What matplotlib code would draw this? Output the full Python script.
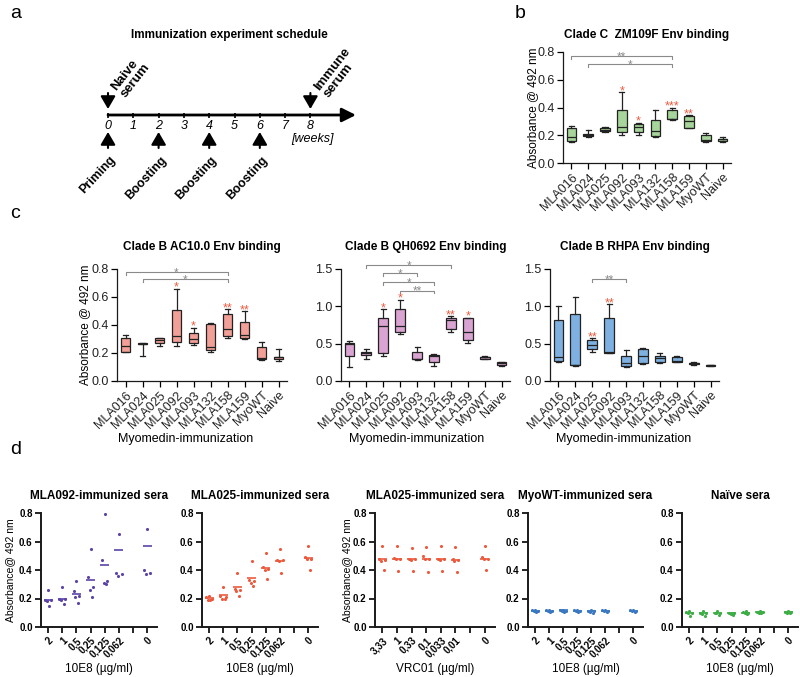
import numpy as np
import matplotlib.pyplot as plt

plt.rcParams['font.family'] = ['Liberation Sans', 'DejaVu Sans']

# --- DATA ---
# panel a: schedule
weeks = list(range(9))
bleed_weeks = [0, 8]
bleed_labels = ['Naive\nserum', 'Immune\nserum']
shot_weeks = [0, 2, 4, 6]
shot_labels = ['Priming', 'Boosting', 'Boosting', 'Boosting']

# panels b, c: box plots (whisker low, q1, median, q3, whisker high)
groups = ['MLA016', 'MLA024', 'MLA025', 'MLA092', 'MLA093', 'MLA132', 'MLA158', 'MLA159', 'MyoWT', 'Naive']

zm109f = [[0.15, 0.16, 0.19, 0.25, 0.27], [0.19, 0.195, 0.20, 0.21, 0.24], [0.225, 0.228, 0.24, 0.25, 0.26],
          [0.205, 0.22, 0.26, 0.38, 0.51], [0.205, 0.22, 0.26, 0.28, 0.29], [0.185, 0.195, 0.23, 0.31, 0.385],
          [0.31, 0.315, 0.32, 0.38, 0.40], [0.25, 0.255, 0.305, 0.34, 0.345], [0.15, 0.155, 0.165, 0.20, 0.215],
          [0.15, 0.16, 0.17, 0.175, 0.19]]
zm109f_stars = [(3, '*'), (4, '*'), (6, '***'), (7, '**')]
zm109f_brackets = [(0, 6, 0.77, '**'), (1, 6, 0.715, '*')]

ac10 = [[0.205, 0.21, 0.25, 0.31, 0.33], [0.18, 0.262, 0.265, 0.27, 0.27], [0.25, 0.27, 0.295, 0.305, 0.31],
        [0.25, 0.275, 0.32, 0.51, 0.66], [0.26, 0.27, 0.30, 0.345, 0.38], [0.21, 0.22, 0.245, 0.41, 0.415],
        [0.31, 0.32, 0.37, 0.48, 0.515], [0.30, 0.305, 0.325, 0.42, 0.50], [0.15, 0.155, 0.165, 0.245, 0.28],
        [0.145, 0.16, 0.168, 0.17, 0.23]]
ac10_stars = [(3, '*'), (4, '*'), (6, '**'), (7, '**')]
ac10_brackets = [(0, 6, 0.78, '*'), (1, 6, 0.725, '*')]

qh0692 = [[0.19, 0.335, 0.49, 0.505, 0.535], [0.295, 0.35, 0.375, 0.39, 0.43], [0.33, 0.38, 0.73, 0.85, 0.96],
          [0.625, 0.65, 0.74, 0.97, 1.09], [0.28, 0.29, 0.30, 0.385, 0.45], [0.205, 0.26, 0.33, 0.345, 0.36],
          [0.66, 0.69, 0.815, 0.84, 0.87], [0.515, 0.55, 0.65, 0.84, 0.85], [0.295, 0.30, 0.315, 0.325, 0.335],
          [0.20, 0.21, 0.235, 0.25, 0.26]]
qh0692_stars = [(2, '*'), (3, '*'), (6, '**'), (7, '*')]
qh0692_brackets = [(1, 6, 1.55, '*'), (2, 4, 1.44, '*'), (2, 5, 1.32, '*'), (3, 5, 1.21, '**')]

rhpa = [[0.25, 0.27, 0.315, 0.82, 1.0], [0.205, 0.215, 0.22, 0.90, 1.13], [0.39, 0.43, 0.48, 0.55, 0.57],
        [0.37, 0.38, 0.385, 0.85, 1.03], [0.185, 0.205, 0.235, 0.335, 0.415], [0.225, 0.245, 0.335, 0.43, 0.445],
        [0.24, 0.25, 0.31, 0.34, 0.37], [0.255, 0.26, 0.27, 0.32, 0.34], [0.22, 0.225, 0.235, 0.245, 0.25],
        [0.20, 0.205, 0.21, 0.215, 0.22]]
rhpa_stars = [(2, '**'), (3, '**')]
rhpa_brackets = [(2, 4, 1.36, '**')]

# panel d: dose series (5 sera per dose) and group means
dose_pos = [0, 1, 2, 3, 4, 5, 7]
e8_ticks = ['2', '1', '0,5', '0,25', '0,125', '0,062', '', '0']
vrc_ticks = ['3,33', '1', '0,33', '0,1', '0,033', '0,01', '', '0']

mla092_pts = [[0.26, 0.19, 0.19, 0.18, 0.15], [0.28, 0.20, 0.20, 0.19, 0.16], [0.32, 0.25, 0.22, 0.21, 0.17],
              [0.55, 0.35, 0.28, 0.26, 0.21], [0.79, 0.47, 0.32, 0.31, 0.30], [0.655, 0.38, 0.37, 0.355],
              [0.69, 0.40, 0.38, 0.375]]
mla092_mean = [0.19, 0.20, 0.23, 0.33, 0.435, 0.54, 0.57]

mla025_pts = [[0.22, 0.21, 0.20, 0.19, 0.19], [0.28, 0.22, 0.21, 0.20, 0.20], [0.38, 0.27, 0.26, 0.25, 0.22],
              [0.46, 0.33, 0.32, 0.31, 0.29], [0.52, 0.42, 0.41, 0.40, 0.34], [0.55, 0.47, 0.47, 0.46, 0.38],
              [0.57, 0.49, 0.48, 0.48, 0.40]]
mla025_mean = [0.205, 0.223, 0.278, 0.341, 0.417, 0.466, 0.482]

vrc01_pts = [[0.565, 0.48, 0.47, 0.46, 0.40], [0.57, 0.485, 0.48, 0.475, 0.395], [0.555, 0.48, 0.475, 0.47, 0.395],
             [0.56, 0.495, 0.48, 0.475, 0.385], [0.565, 0.48, 0.475, 0.47, 0.395], [0.56, 0.475, 0.47, 0.465, 0.385],
             [0.57, 0.49, 0.48, 0.48, 0.40]]
vrc01_mean = [0.475, 0.48, 0.475, 0.48, 0.475, 0.47, 0.48]

myowt_pts = [[0.12, 0.12, 0.115, 0.11, 0.105], [0.12, 0.118, 0.115, 0.11, 0.105], [0.122, 0.12, 0.115, 0.11, 0.108],
             [0.12, 0.118, 0.115, 0.112, 0.108], [0.12, 0.115, 0.112, 0.105, 0.10], [0.122, 0.12, 0.115, 0.11, 0.105],
             [0.122, 0.12, 0.115, 0.11, 0.105]]
myowt_mean = [0.115, 0.114, 0.116, 0.115, 0.111, 0.115, 0.115]

naive_pts = [[0.11, 0.105, 0.10, 0.095, 0.08], [0.11, 0.10, 0.10, 0.09, 0.08], [0.11, 0.10, 0.10, 0.095, 0.085],
             [0.10, 0.10, 0.095, 0.09, 0.085], [0.11, 0.105, 0.10, 0.095, 0.09], [0.11, 0.105, 0.105, 0.10, 0.095],
             [0.11, 0.105, 0.105, 0.10, 0.10]]
naive_mean = [0.10, 0.095, 0.10, 0.095, 0.10, 0.103, 0.104]

# --- STYLE ---
W, H = 800, 677
RED = '#ec5a3e'
GREY = '#8a8a8a'
EDGE = '#222222'
jitter = [0.0, -0.2, 0.2, -0.07, 0.1]

fig = plt.figure(figsize=(8, 6.77), dpi=100)


def px_axes(left, top, right, bottom):
    return fig.add_axes([left / W, 1 - bottom / H, (right - left) / W, (bottom - top) / H])


def prism_spines(ax, lw):
    for s in ['top', 'right']:
        ax.spines[s].set_visible(False)
    for s in ['left', 'bottom']:
        ax.spines[s].set_linewidth(lw)
        ax.spines[s].set_color('#1a1a1a')


# --- PANEL a ---
ax_a = px_axes(60, 20, 380, 215)
ax_a.set_xlim((60 - 108) / 25.3, (380 - 108) / 25.3)
ax_a.set_ylim(215, 20)
ax_a.axis('off')
ax_a.annotate('', xy=(9.8, 115), xytext=(0, 115),
              arrowprops=dict(arrowstyle='-|>,head_length=0.6,head_width=0.3', lw=2, color='black',
                              mutation_scale=14, shrinkA=0, shrinkB=0))
ax_a.vlines(weeks, 112.5, 117.5, color='black', lw=1.2)
for w in weeks:
    ax_a.text(w, 126, str(w), ha='center', va='center', style='italic', fontsize=9)
ax_a.text(8.1, 139, '[weeks]', ha='center', va='center', style='italic', fontsize=9)
ax_a.text(4.8, 35, 'Immunization experiment schedule', ha='center', va='center', fontweight='bold', fontsize=8.5)
for w, lab in zip(bleed_weeks, bleed_labels):
    ax_a.annotate('', xy=(w, 109), xytext=(w, 93),
                  arrowprops=dict(arrowstyle='-|>,head_length=0.55,head_width=0.32', lw=1.5, color='black',
                                  mutation_scale=14, shrinkA=0, shrinkB=0))
    ax_a.text(w + 0.8, 100, lab, rotation=52, rotation_mode='anchor', ha='left', va='bottom',
              fontweight='bold', fontsize=9.5, linespacing=1.0)
for w, lab in zip(shot_weeks, shot_labels):
    ax_a.annotate('', xy=(w, 132), xytext=(w, 148),
                  arrowprops=dict(arrowstyle='-|>,head_length=0.55,head_width=0.32', lw=1.5, color='black',
                                  mutation_scale=14, shrinkA=0, shrinkB=0))
    ax_a.text(w + 0.05, 154, lab, rotation=47, rotation_mode='anchor', ha='right', va='top',
              fontweight='bold', fontsize=9)


# --- PANELS b, c ---
def box_panel(ax, stats5, color, ymax, yticks, stars, brackets, title, pad=14):
    bstats = [dict(whislo=s[0], q1=s[1], med=s[2], q3=s[3], whishi=s[4], fliers=[]) for s in stats5]
    ax.bxp(bstats, positions=range(len(groups)), widths=0.58, capwidths=0.3, patch_artist=True,
           showfliers=False,
           boxprops=dict(facecolor=color, edgecolor=EDGE, lw=0.9),
           medianprops=dict(color=EDGE, lw=0.9),
           whiskerprops=dict(color=EDGE, lw=0.9),
           capprops=dict(color=EDGE, lw=0.9))
    ax.set_xlim(-0.5, 9.5)
    ax.set_ylim(0, ymax)
    ax.set_yticks(yticks)
    ax.set_yticklabels([f'{v:.1f}' for v in yticks], fontsize=9, color='#222222')
    ax.set_xticks(range(len(groups)))
    ax.set_xticklabels(groups, rotation=45, ha='right', rotation_mode='anchor', fontsize=9, color='#222222')
    ax.tick_params(length=4, width=0.9, pad=2)
    prism_spines(ax, 0.9)
    ax.set_title(title, fontweight='bold', fontsize=8.5, pad=pad)
    for i, s in stars:
        ax.annotate(s, (i, stats5[i][4]), xytext=(0, -1.5), textcoords='offset points', ha='center',
                    va='baseline', color=RED, fontsize=9, annotation_clip=False)
    for x0, x1, y, s in brackets:
        h = 0.025 * ymax
        ax.plot([x0, x0, x1, x1], [y - h, y, y, y - h], color=GREY, lw=0.8, clip_on=False)
        ax.annotate(s, ((x0 + x1) / 2, y), xytext=(0, -3), textcoords='offset points', ha='center',
                    va='baseline', color=GREY, fontsize=8.5, annotation_clip=False)


ax_b = px_axes(563, 52, 731, 163)
box_panel(ax_b, zm109f, '#a6d49a', 0.8, [0.0, 0.2, 0.4, 0.6, 0.8], zm109f_stars, zm109f_brackets,
          'Clade C  ZM109F Env binding', pad=10)
ax_b.set_ylabel('Absorbance @ 492 nm', fontsize=8.5)
ax_b.yaxis.set_label_coords((539 - 563) / 168, 0.5)

ax_c1 = px_axes(117, 269, 287, 381)
box_panel(ax_c1, ac10, '#f2a097', 0.8, [0.0, 0.2, 0.4, 0.6, 0.8], ac10_stars, ac10_brackets,
          'Clade B AC10.0 Env binding')
ax_c1.set_ylabel('Absorbance @ 492 nm', fontsize=8.5)
ax_c1.yaxis.set_label_coords((91 - 117) / 170, 0.5)

ax_c2 = px_axes(341, 269, 510, 381)
box_panel(ax_c2, qh0692, '#d9a3d2', 1.5, [0.0, 0.5, 1.0, 1.5], qh0692_stars, qh0692_brackets,
          'Clade B QH0692 Env binding')

ax_c3 = px_axes(550, 269, 719, 381)
box_panel(ax_c3, rhpa, '#7eb1e2', 1.5, [0.0, 0.5, 1.0, 1.5], rhpa_stars, rhpa_brackets,
          'Clade B RHPA Env binding')

for xc in [186, 417, 624]:
    fig.text(xc / W, 1 - 439 / H, 'Myomedin-immunization', ha='center', va='center', fontsize=9)


# --- PANEL d ---
def dose_panel(ax, pts, means, color, ticks, title, xlabel):
    for pos, vals, m in zip(dose_pos, pts, means):
        ax.scatter(pos + np.array(jitter[:len(vals)]), vals, s=5, color=color, linewidths=0, zorder=3)
        ax.hlines(m, pos - 0.32, pos + 0.32, color=color, lw=1.2, zorder=2)
    ax.set_xlim(-0.5, 7.7)
    ax.set_ylim(0, 0.8)
    ax.set_yticks([0.0, 0.2, 0.4, 0.6, 0.8])
    ax.set_yticklabels(['0.0', '0.2', '0.4', '0.6', '0.8'], fontsize=7, fontweight='bold')
    ax.set_xticks(range(8))
    ax.set_xticklabels(ticks, rotation=45, ha='right', rotation_mode='anchor', fontsize=7, fontweight='bold')
    ax.tick_params(length=4, width=1.2, pad=2)
    prism_spines(ax, 1.4)
    ax.set_title(title, fontweight='bold', fontsize=8.5, pad=10)
    ax.set_xlabel(xlabel, fontsize=8.5)
    ax.xaxis.set_label_coords(0.5, (627 - 663) / 114)


d_specs = [
    ((41, 157), mla092_pts, mla092_mean, '#5b43a8', e8_ticks, 'MLA092-immunized sera', '10E8 (µg/ml)'),
    ((202, 318), mla025_pts, mla025_mean, RED, e8_ticks, 'MLA025-immunized sera', '10E8 (µg/ml)'),
    ((375, 495), vrc01_pts, vrc01_mean, RED, vrc_ticks, 'MLA025-immunized sera', 'VRC01 (µg/ml)'),
    ((528, 643), myowt_pts, myowt_mean, '#3b78c2', e8_ticks, 'MyoWT-immunized sera', '10E8 (µg/ml)'),
    ((682, 798), naive_pts, naive_mean, '#3cae45', e8_ticks, 'Naïve sera', '10E8 (µg/ml)'),
]
d_axes = []
for (l, r), pts, means, col, ticks, title, xl in d_specs:
    ax = px_axes(l, 513, r, 627)
    dose_panel(ax, pts, means, col, ticks, title, xl)
    d_axes.append((ax, l, r))

for (ax, l, r), xc in [(d_axes[0], 10), (d_axes[2], 347)]:
    ax.set_ylabel('Absorbance@ 492 nm', fontsize=7.5)
    ax.yaxis.set_label_coords((xc + 5 - l) / (r - l), 0.5)

# panel letters
for lab, x, y in [('a', 10, 14), ('b', 515, 13), ('c', 10, 214), ('d', 10, 450)]:
    fig.text(x / W, 1 - y / H, lab, fontsize=14, ha='left', va='center')

fig.savefig('out.png', dpi=100)
